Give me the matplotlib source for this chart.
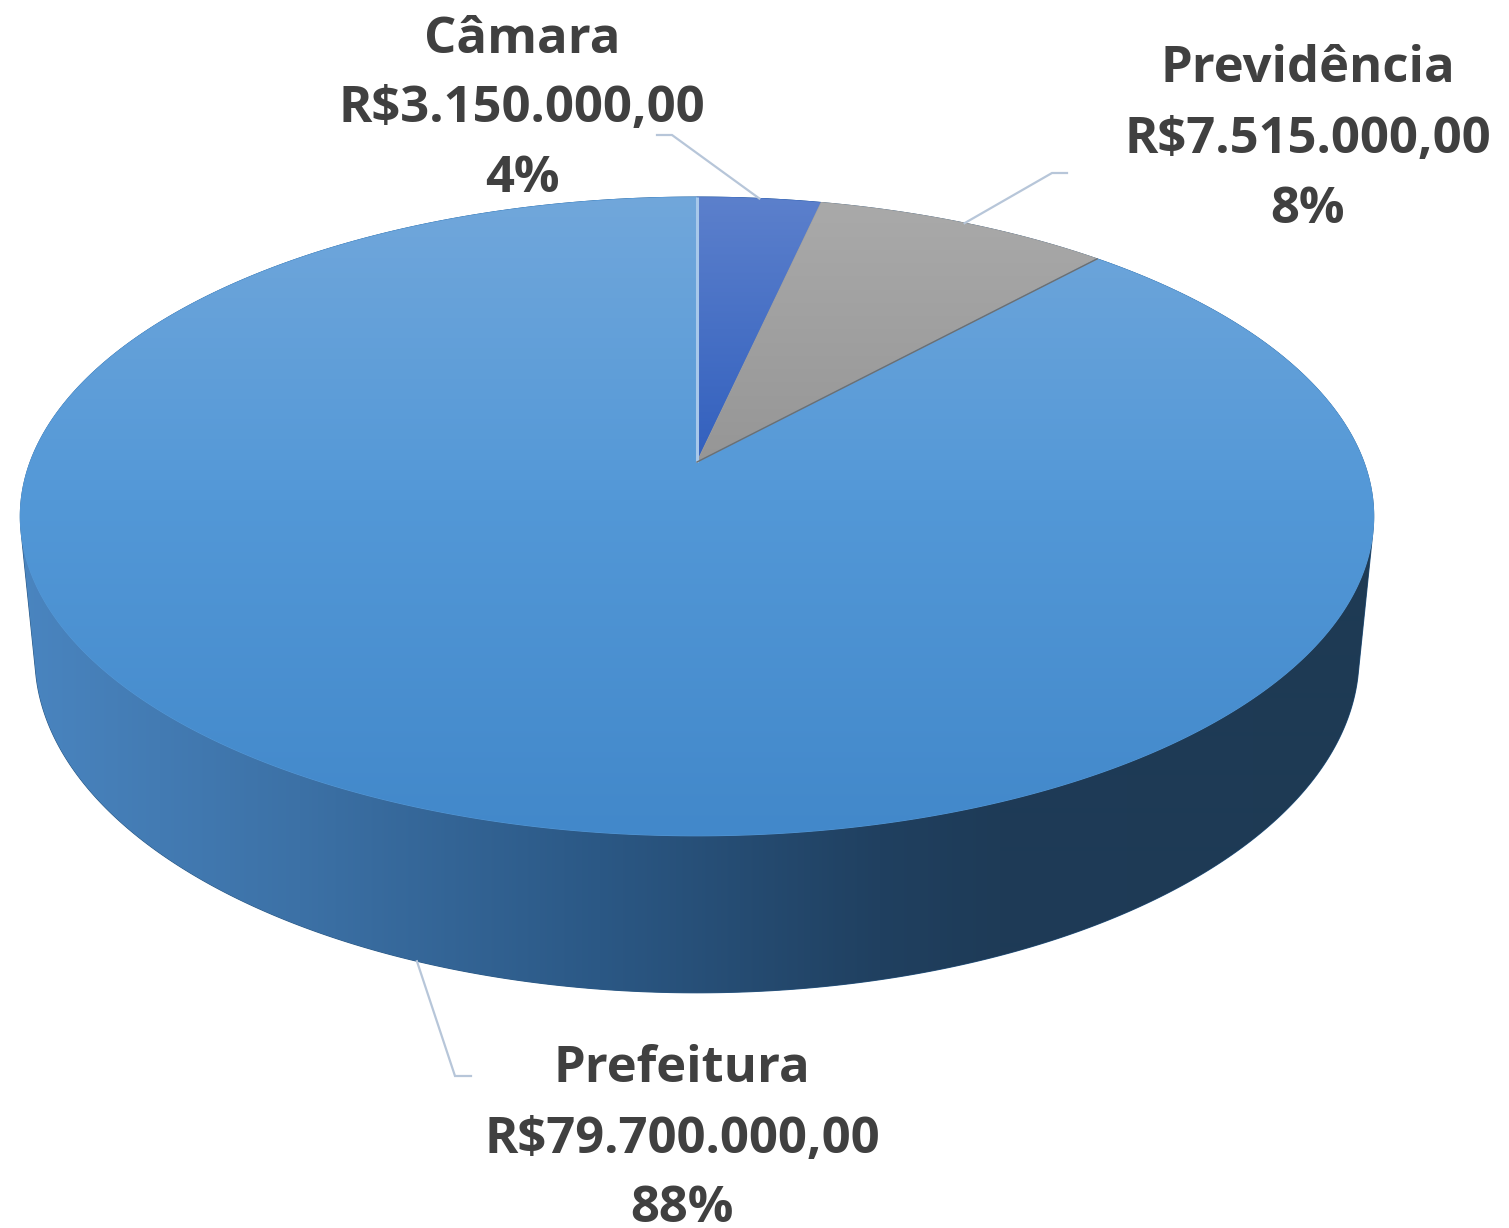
import numpy as np
import matplotlib
matplotlib.use("Agg")
import matplotlib.pyplot as plt
from matplotlib.patches import Polygon

# ---------------- data ----------------
categories = ["Câmara", "Previdência", "Prefeitura"]
values = [3150000.00, 7515000.00, 79700000.00]
pct_labels = ["4%", "8%", "88%"]

# ---------------- styling ----------------
W, H = 1509, 1228
plt.rcParams['font.family'] = ['Open Sans', 'DejaVu Sans']
TXT = "#404040"
LEADER = "#b7c6d9"

fig = plt.figure(figsize=(W / 100, H / 100), dpi=100)
ax = fig.add_axes([0, 0, 1, 1])

# perspective projection parameters for 3D pie
cx, cy = 697.0, 462.0
phi = np.arcsin(0.465)
sphi, cphi = np.sin(phi), np.cos(phi)
D = cphi / 0.1705
F = 3462.0
HGT = 0.24


def proj(theta_deg, y):
    t = np.radians(theta_deg)
    X = np.sin(t)
    Z = np.cos(t)
    w = D - y * sphi + Z * cphi
    v = y * cphi + Z * sphi
    return cx + F * X / w, cy - F * v / w


def hull(points):
    pts = sorted(set(map(tuple, points)))
    def cross(o, a, b):
        return (a[0] - o[0]) * (b[1] - o[1]) - (a[1] - o[1]) * (b[0] - o[0])
    lower, upper = [], []
    for p in pts:
        while len(lower) >= 2 and cross(lower[-2], lower[-1], p) <= 0:
            lower.pop()
        lower.append(p)
    for p in reversed(pts):
        while len(upper) >= 2 and cross(upper[-2], upper[-1], p) <= 0:
            upper.pop()
        upper.append(p)
    return np.array(lower[:-1] + upper[:-1])


def interp_colors(coord, stops):
    pos = np.array([s[0] for s in stops], float)
    cols = np.array([s[1] for s in stops], float) / 255.0
    out = np.stack([np.interp(coord, pos, cols[:, k]) for k in range(3)], axis=-1)
    return out


def gradient_fill(path_xy, stops, direction, base):
    poly = Polygon(path_xy, closed=True, facecolor=base, edgecolor=base, lw=0.8)
    ax.add_patch(poly)
    if direction == "v":
        ys = np.arange(H) + 0.5
        img = interp_colors(ys, stops)[:, None, :]
    else:
        xs = np.arange(W) + 0.5
        img = interp_colors(xs, stops)[None, :, :]
    im = ax.imshow(img, extent=(0, W, H, 0), origin="upper", aspect="auto",
                   interpolation="bilinear", zorder=poly.get_zorder())
    im.set_clip_path(poly)
    return poly


total = sum(values)
fracs = [v / total for v in values]
bounds = np.concatenate([[0], np.cumsum(fracs) * 360.0])

# ---- side (outer wall) ----
ths = np.linspace(0, 360, 721)
top_pts = np.array([proj(t, 0.0) for t in ths])
bot_pts = np.array([proj(t, -HGT) for t in ths])
side_hull = hull(np.vstack([top_pts, bot_pts]))
side_stops = [(20, (74, 133, 192)), (300, (60, 113, 166)), (600, (43, 88, 133)),
              (880, (32, 64, 96)), (1000, (30, 59, 87)), (1380, (30, 58, 84))]
gradient_fill(side_hull, side_stops, "h", "#2c5a86")

# ---- top faces ----
top_styles = [
    ([(197, (92, 128, 204)), (462, (50, 96, 190))], "#4470c4"),
    ([(197, (170, 170, 170)), (462, (150, 150, 150))], "#a0a0a0"),
    ([(197, (113, 167, 219)), (500, (83, 152, 215)), (836, (66, 136, 202))], "#5598d6"),
]
for i, (stops, base) in enumerate(top_styles):
    a0, a1 = bounds[i], bounds[i + 1]
    arc = np.array([proj(t, 0.0) for t in np.linspace(a0, a1, max(int((a1 - a0) * 2), 20))])
    pts = np.vstack([[cx, cy], arc])
    gradient_fill(pts, stops, "v", base)

# slice boundary lines
p0 = proj(bounds[0], 0.0)
ax.plot([cx, p0[0]], [cy, p0[1]], color="#a8c8ea", lw=2.2, solid_capstyle="butt", zorder=3)
p2 = proj(bounds[2], 0.0)
ax.plot([cx, p2[0]], [cy, p2[1]], color="#6f6f6f", lw=1.0, zorder=3)

# ---------------- labels ----------------
def money(v):
    s = f"{v:,.2f}"
    return "R$" + s.replace(",", "X").replace(".", ",").replace("X", ".")

FS = 36.5
label_cfg = [
    # (center x, baselines of 3 lines, elbow point, horizontal end, anchor depth)
    (522, (53, 122, 192), (672, 135), (657, 135), 0.0),
    (1308, (82, 153, 223), (1052, 173), (1067, 173), 0.0),
    (682, (1082, 1153, 1222), (455, 1076), (471, 1076), -HGT),
]
for i, cat in enumerate(categories):
    xc, bls, elbow, hend, depth = label_cfg[i]
    lines = [cat, money(values[i]), pct_labels[i]]
    for txt, bl in zip(lines, bls):
        ax.text(xc, bl, txt, ha="center", va="baseline", fontsize=FS,
                fontweight="bold", color=TXT, zorder=5)
    mid = (bounds[i] + bounds[i + 1]) / 2.0
    anc = proj(mid, depth)
    ax.plot([anc[0], elbow[0], hend[0]], [anc[1], elbow[1], hend[1]],
            color=LEADER, lw=1.6, zorder=4, solid_joinstyle="miter")

ax.set_xlim(0, W)
ax.set_ylim(H, 0)
ax.axis("off")
fig.savefig("out.png", dpi=100, facecolor="white")
